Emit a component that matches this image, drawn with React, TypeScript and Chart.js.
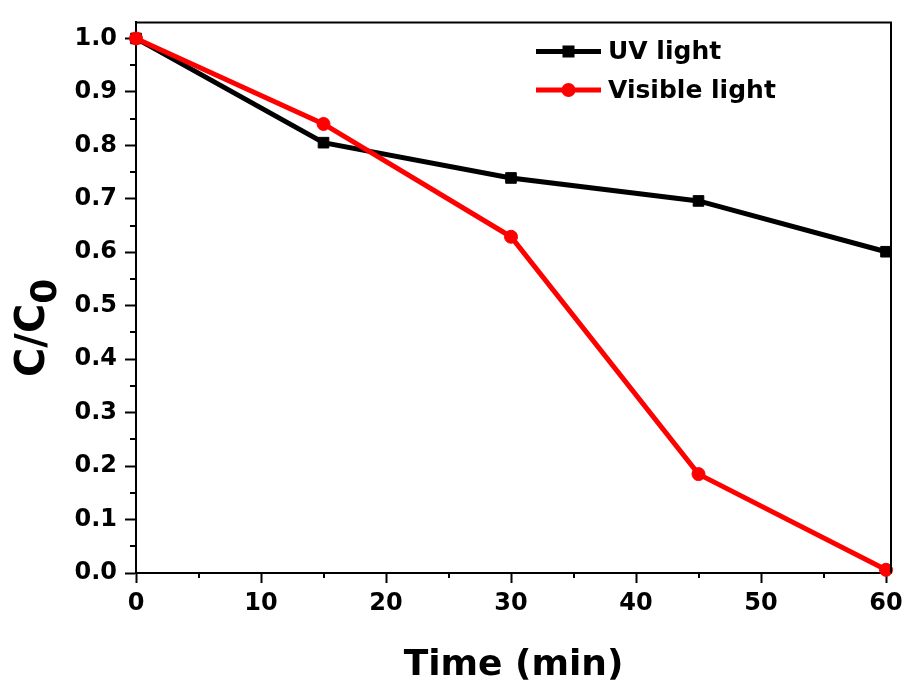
import React, { useEffect, useRef } from "react";
import { Chart, registerables } from "chart.js";

Chart.register(...registerables);

const times = [0, 15, 30, 45, 60];
const uvValues = [1.0, 0.805, 0.739, 0.696, 0.601];
const visibleValues = [1.0, 0.84, 0.629, 0.185, 0.006];
const xTicks = [0, 10, 20, 30, 40, 50, 60];
const yTicks = [0, 0.1, 0.2, 0.3, 0.4, 0.5, 0.6, 0.7, 0.8, 0.9, 1.0];
const xMinorTicks = [5, 15, 25, 35, 45, 55];
const yMinorTicks = [0.05, 0.15, 0.25, 0.35, 0.45, 0.55, 0.65, 0.75, 0.85, 0.95];
const seriesNames = ["UV light", "Visible light"];
const xTitle = "Time (min)";
const yTitleMain = "C/C";
const yTitleSub = "0";

const FONT = "'DejaVu Sans', sans-serif";

const framePlugin = {
  id: "frame",
  afterDraw(chart: any) {
    const ctx = chart.ctx;
    const { left, right, top, bottom } = chart.chartArea;
    const xs = chart.scales.x;
    const ys = chart.scales.y;
    ctx.save();
    ctx.strokeStyle = "#000";
    ctx.lineWidth = 2;
    // top and right frame lines
    ctx.beginPath();
    ctx.moveTo(left, top);
    ctx.lineTo(right, top);
    ctx.lineTo(right, bottom);
    ctx.stroke();
    // minor ticks
    ctx.beginPath();
    xMinorTicks.forEach((v) => {
      const px = Math.round(xs.getPixelForValue(v));
      ctx.moveTo(px, bottom);
      ctx.lineTo(px, bottom + 5);
    });
    yMinorTicks.forEach((v) => {
      const py = Math.round(ys.getPixelForValue(v));
      ctx.moveTo(left, py);
      ctx.lineTo(left - 6, py);
    });
    ctx.stroke();

    // y title with subscript
    ctx.fillStyle = "#000";
    ctx.translate(44, 377);
    ctx.rotate(-Math.PI / 2);
    ctx.textBaseline = "alphabetic";
    ctx.textAlign = "left";
    ctx.font = `bold 40px ${FONT}`;
    ctx.fillText(yTitleMain, 0, 0);
    const w = ctx.measureText(yTitleMain).width;
    ctx.font = `bold 36px ${FONT}`;
    ctx.fillText(yTitleSub, w, 12);
    ctx.restore();

    // legend
    ctx.save();
    const rows = [51.5, 90];
    chart.data.datasets.forEach((ds: any, i: number) => {
      const y = rows[i];
      ctx.strokeStyle = ds.borderColor;
      ctx.fillStyle = ds.borderColor;
      ctx.lineWidth = 5;
      ctx.beginPath();
      ctx.moveTo(536, y);
      ctx.lineTo(601, y);
      ctx.stroke();
      const cx = 568.5;
      if (ds.pointStyle === "rect") {
        ctx.fillRect(cx - 6, y - 6, 12, 12);
      } else {
        ctx.beginPath();
        ctx.arc(cx, y, 7, 0, Math.PI * 2);
        ctx.fill();
      }
      ctx.fillStyle = "#000";
      ctx.font = `bold 25px ${FONT}`;
      ctx.textBaseline = "middle";
      ctx.textAlign = "left";
      ctx.fillText(ds.label, 608, y + 1);
    });
    ctx.restore();
  },
};

export default function App() {
  const ref = useRef<HTMLCanvasElement>(null);
  useEffect(() => {
    document.body.style.margin = "0";
    const canvas = ref.current!;
    const chart = new Chart(canvas, {
      type: "line",
      data: {
        datasets: [
          {
            label: seriesNames[0],
            data: times.map((t, i) => ({ x: t, y: uvValues[i] })),
            borderColor: "#000000",
            backgroundColor: "#000000",
            borderWidth: 5,
            pointStyle: "rect",
            pointRadius: 7.5,
            pointBorderWidth: 1,
            order: 1,
            clip: false as any,
          },
          {
            label: seriesNames[1],
            data: times.map((t, i) => ({ x: t, y: visibleValues[i] })),
            borderColor: "#ff0000",
            backgroundColor: "#ff0000",
            borderWidth: 5,
            pointStyle: "circle",
            pointRadius: 6.5,
            pointBorderWidth: 1,
            order: 0,
            clip: false as any,
          },
        ],
      },
      options: {
        animation: false,
        responsive: false,
        devicePixelRatio: 1,
        layout: { padding: { top: 22, right: 18, left: 0, bottom: 0 } },
        plugins: { legend: { display: false }, tooltip: { enabled: false } },
        scales: {
          x: {
            type: "linear",
            min: 0,
            max: 60.4,
            afterFit: (s: any) => {
              s.height = 120;
            },
            afterBuildTicks: (s: any) => {
              s.ticks = xTicks.map((v) => ({ value: v }));
            },
            ticks: {
              color: "#000",
              font: { family: FONT, size: 24, weight: "bold" },
              padding: 6,
              maxRotation: 0,
              callback: (v: any) => String(v),
            },
            grid: {
              drawOnChartArea: false,
              drawTicks: true,
              tickLength: 10,
              tickWidth: 2,
              tickColor: "#000",
            },
            border: { display: true, color: "#000", width: 2 },
            title: {
              display: true,
              text: xTitle,
              color: "#000",
              font: { family: FONT, size: 36, weight: "bold" },
              padding: { top: 0, bottom: 6 },
            },
          },
          y: {
            type: "linear",
            min: 0,
            max: 1.03,
            afterFit: (s: any) => {
              s.width = 136;
            },
            afterBuildTicks: (s: any) => {
              s.ticks = yTicks.map((v) => ({ value: v }));
            },
            ticks: {
              color: "#000",
              font: { family: FONT, size: 24, weight: "bold" },
              padding: 8,
              callback: (v: any) => Number(v).toFixed(1),
            },
            grid: {
              drawOnChartArea: false,
              drawTicks: true,
              tickLength: 11,
              tickWidth: 2,
              tickColor: "#000",
            },
            border: { display: true, color: "#000", width: 2 },
          },
        },
      },
      plugins: [framePlugin],
    });
    return () => chart.destroy();
  }, []);
  return (
    <div style={{ position: "absolute", left: 0, top: 0, width: 909, height: 693 }}>
      <canvas ref={ref} width={909} height={693} style={{ display: "block" }} />
    </div>
  );
}
